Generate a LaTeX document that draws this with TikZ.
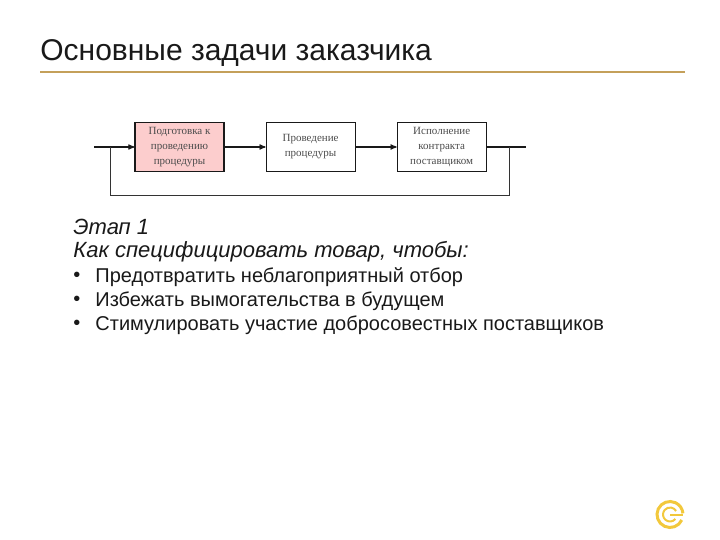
\documentclass[tikz,border=0pt]{standalone}
\usepackage{fontspec}
\setmainfont{Liberation Sans}
\newfontfamily\boxfont{Liberation Serif}
\usetikzlibrary{positioning,arrows}
\definecolor{rulegold}{RGB}{196,160,90}
\definecolor{logogold}{RGB}{242,200,60}
\definecolor{prepfill}{RGB}{252,205,205}
\begin{document}
\begin{tikzpicture}[x=1pt,y=-1pt,->,>=stealth',thick,
  step box/.style={draw=black!90,line width=1.1pt,minimum width=89pt,minimum height=49pt,inner sep=0pt,
    align=center,font=\boxfont\fontsize{11}{15}\selectfont,text=black!70},
  item text/.style={anchor=west,inner sep=0pt,text=black!90,font=\fontsize{20}{22}\selectfont},
  head text/.style={anchor=west,inner sep=0pt,text=black!90,font=\itshape\fontsize{22}{24}\selectfont},
  flow line/.style={line width=1.2pt,draw=black!90,shorten >=0pt},
  back line/.style={-,line width=1pt,draw=black!80}]
  \useasboundingbox (0,0) rectangle (720,540);
  % title
  \node[anchor=west,inner sep=0pt,text=black!90,font=\fontsize{30}{34}\selectfont] (title) at (40,53) {Основные задачи заказчика};
  \coordinate (rule_l) at (40,72);
  \coordinate (rule_r) at (685,72);
  \draw[-,rulegold,line width=1.6pt] (rule_l) -- (rule_r);
  % blocks
  \node[step box,fill=prepfill] (prep) at (179.5,147) {Подготовка к\\проведению\\процедуры};
  \node[step box] (proc) [right=41pt of prep] {Проведение\\процедуры};
  \node[step box] (exec) [right=41pt of proc] {Исполнение\\контракта\\поставщиком};
  \coordinate (in) at (94,147);
  \coordinate (out) at (526,147);
  \coordinate (join_l) at (110,147);
  \coordinate (join_r) at (509,147);
  \coordinate (low_l) at (110,196);
  \coordinate (low_r) at (509,196);
  \draw[flow line] (in) -- (prep);
  \draw[flow line] (prep) -- (proc);
  \draw[flow line] (proc) -- (exec);
  \draw[flow line,-] (exec) -- (out);
  \draw[back line] (join_r) -- (low_r) -- (low_l) -- (join_l);
  % text
  \node[head text] (stage) at (73,227) {Этап 1};
  \node[head text] (how) at (73,252) {Как специфицировать товар, чтобы:};
  \node[item text] (b1) at (73,277) {•};
  \node[item text] (b2) at (73,301) {•};
  \node[item text] (b3) at (73,325) {•};
  \node[item text] (t1) at (95,277) {Предотвратить неблагоприятный отбор};
  \node[item text] (t2) at (95,301) {Избежать вымогательства в будущем};
  \node[item text] (t3) at (95,325) {Стимулировать участие добросовестных поставщиков};
  % logo
  \coordinate (logo) at (670,514.5);
  \draw[-,logogold,line width=3pt] (logo) ++(25:13) arc[start angle=25,end angle=355,radius=13];
  \draw[-,logogold,line width=2pt] (logo) ++(40:7) arc[start angle=40,end angle=330,radius=7];
  \draw[-,logogold,line width=2pt] (logo) -- ++(13,0);
\end{tikzpicture}
\end{document}
